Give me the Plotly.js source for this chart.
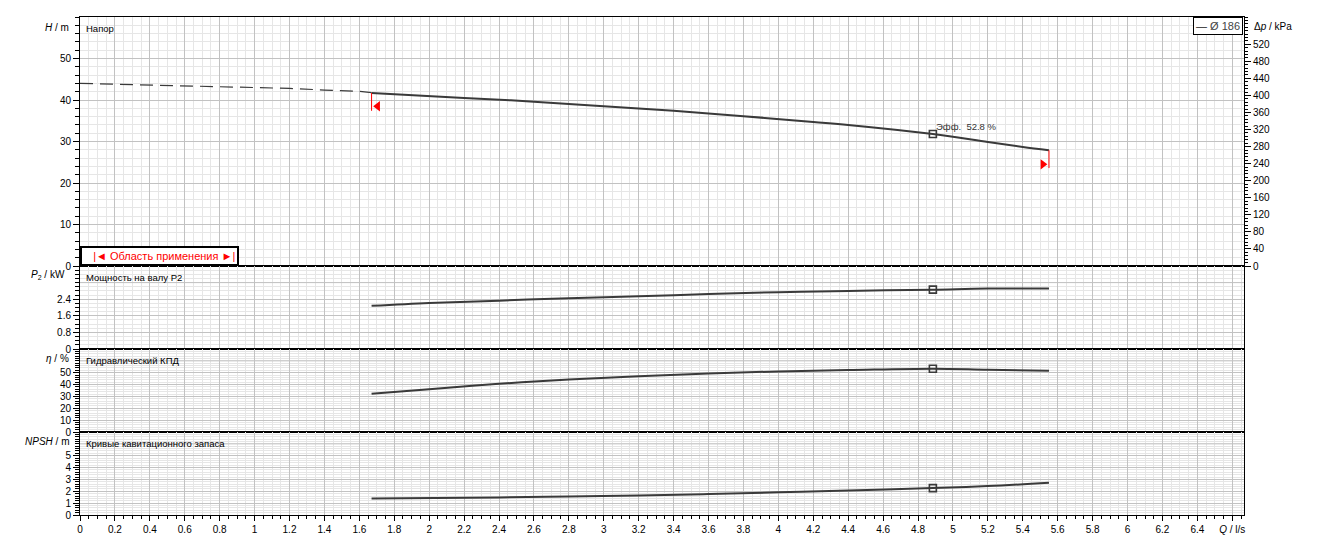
<!DOCTYPE html>
<html>
<head>
<meta charset="utf-8">
<script src="https://cdn.plot.ly/plotly-3.0.1.min.js"></script>
<style>html,body{margin:0;padding:0;background:#fff;}#chart{width:1323px;height:550px;}</style>
</head>
<body>
<div id="chart"></div>
<script>
// ---- data ----
const qDash = [0, 0.2, 0.4, 0.6, 0.8, 1.0, 1.2, 1.4, 1.6, 1.67];
const hDash = [44.0, 43.8, 43.7, 43.5, 43.3, 43.0, 42.8, 42.4, 42.1, 41.8];

const qHead = [1.67, 2.2, 2.6, 3.0, 3.4, 3.8, 4.2, 4.4, 4.885, 5.2, 5.4, 5.55];
const hHead = [41.7, 40.5, 39.6, 38.5, 37.4, 36.1, 34.7, 34.0, 31.8, 29.9, 28.7, 27.9];

const qPower = [1.67, 2.0, 2.4, 2.8, 3.2, 3.6, 4.0, 4.4, 4.885, 5.2, 5.55];
const pPower = [2.08, 2.22, 2.33, 2.45, 2.54, 2.65, 2.74, 2.80, 2.86, 2.91, 2.91];

const qEff = [1.67, 2.0, 2.4, 2.8, 3.2, 3.6, 4.0, 4.4, 4.885, 5.2, 5.55];
const etaEff = [32.3, 36.1, 40.6, 44.3, 47.1, 49.4, 51.1, 52.2, 53.4, 52.5, 51.7];

const qNpsh = [1.67, 2.4, 2.8, 3.2, 3.6, 4.0, 4.4, 4.885, 5.2, 5.55];
const npsh = [1.40, 1.48, 1.57, 1.65, 1.77, 1.91, 2.07, 2.27, 2.44, 2.72];

const bepQ = 4.885, bepH = 31.8, bepP = 2.86, bepEta = 53.4, bepNpsh = 2.27;
const bepLabel = 'Эфф.  52.8 %';

const limitLeftQ = [1.67, 1.67], limitLeftH = [41.7, 37.4];
const limitLeftMarkQ = [1.705], limitLeftMarkH = [38.5];
const limitRightQ = [5.55, 5.55], limitRightH = [27.9, 23.6];
const limitRightMarkQ = [5.515], limitRightMarkH = [24.5];

const kPaPerM = 584 / 60;

const xTickVals = [0,0.2,0.4,0.6,0.8,1,1.2,1.4,1.6,1.8,2,2.2,2.4,2.6,2.8,3,3.2,3.4,3.6,3.8,4,4.2,4.4,4.6,4.8,5,5.2,5.4,5.6,5.8,6,6.2,6.4,6.6];
const xTickText = ['0','0.2','0.4','0.6','0.8','1','1.2','1.4','1.6','1.8','2','2.2','2.4','2.6','2.8','3','3.2','3.4','3.6','3.8','4','4.2','4.4','4.6','4.8','5','5.2','5.4','5.6','5.8','6','6.2','6.4','<i>Q</i> / l/s'];
const hTickVals = [0,10,20,30,40,50];
const pTickVals = [0,0.8,1.6,2.4];
const etaTickVals = [0,10,20,30,40,50];
const npshTickVals = [0,1,2,3,4,5];
const dpTickVals = [0,40,80,120,160,200,240,280,320,360,400,440,480,520];
// unlabelled major grid lines under the axis titles
const pGridTop = 3.2, etaGridTop = 60, npshGridTop = 6;

// ---- styles ----
const curveColor = '#3a3a3a';
const FONT = 'Liberation Sans, Arial, sans-serif';
const majorGrid = '#c2c2c2';
const minorGrid = '#e6e6e6';

const line = (x, y, xa, ya, extra) => Object.assign({
  x, y, xaxis: xa, yaxis: ya, type: 'scatter', mode: 'lines',
  line: {color: curveColor, width: 2}, hoverinfo: 'skip', showlegend: false
}, extra || {});

const bep = (y, xa, ya) => ({
  x: [bepQ], y: [y], xaxis: xa, yaxis: ya, type: 'scatter', mode: 'markers',
  marker: {symbol: 'square-open', size: 7, color: curveColor, line: {width: 1.6, color: curveColor}},
  hoverinfo: 'skip', showlegend: false
});

const traces = [
  line(qDash, hDash, 'x', 'y', {line: {color: curveColor, width: 1.2, dash: '13px,7px'}}),
  line(qHead, hHead, 'x', 'y', {line: {color: curveColor, width: 2, shape: 'spline'}}),
  line(qHead, hHead.map(h => h * kPaPerM), 'x', 'y5', {line: {color: 'rgba(0,0,0,0)', width: 0}}),
  line(limitLeftQ, limitLeftH, 'x', 'y', {line: {color: '#ff0000', width: 1}}),
  line(limitRightQ, limitRightH, 'x', 'y', {line: {color: '#ff0000', width: 1}}),
  {x: limitLeftMarkQ, y: limitLeftMarkH, xaxis: 'x', yaxis: 'y', type: 'scatter', mode: 'markers',
   marker: {symbol: 'triangle-left', size: 9, color: '#ff0000'}, hoverinfo: 'skip', showlegend: false},
  {x: limitRightMarkQ, y: limitRightMarkH, xaxis: 'x', yaxis: 'y', type: 'scatter', mode: 'markers',
   marker: {symbol: 'triangle-right', size: 9, color: '#ff0000'}, hoverinfo: 'skip', showlegend: false},
  bep(bepH, 'x', 'y'),
  line(qPower, pPower, 'x2', 'y2', {line: {color: curveColor, width: 2, shape: 'spline'}}),
  bep(bepP, 'x2', 'y2'),
  line(qEff, etaEff, 'x3', 'y3', {line: {color: curveColor, width: 2, shape: 'spline'}}),
  bep(bepEta, 'x3', 'y3'),
  line(qNpsh, npsh, 'x4', 'y4', {line: {color: curveColor, width: 2, shape: 'spline'}}),
  bep(bepNpsh, 'x4', 'y4')
];

const tickFont = {family: FONT, size: 10, color: '#000'};

function xAxis(anchor, bottom) {
  return {
    domain: [0, 1], anchor: anchor, range: [0, 6.667], autorange: false,
    tickmode: 'array', tickvals: xTickVals, ticktext: xTickText,
    showticklabels: bottom, ticks: bottom ? 'outside' : '', ticklen: 5, tickcolor: '#000',
    showgrid: true, gridcolor: majorGrid, gridwidth: 1,
    minor: {dtick: 0.05, tick0: 0, showgrid: true, gridcolor: minorGrid, gridwidth: 1,
            ticks: bottom ? 'outside' : '', ticklen: 3, tickcolor: '#000'},
    showline: true, linecolor: '#000', linewidth: 1, mirror: true,
    zeroline: false, tickfont: tickFont, fixedrange: true
  };
}
function yAxis(anchor, domain, range, tv, minorDtick) {
  return {
    domain: domain, anchor: anchor, range: range, autorange: false,
    tickmode: 'array', tickvals: tv,
    ticks: 'outside', ticklen: 6, tickcolor: '#000',
    showgrid: true, gridcolor: majorGrid, gridwidth: 1,
    minor: {dtick: minorDtick, tick0: 0, showgrid: true, gridcolor: minorGrid, gridwidth: 1,
            ticks: 'outside', ticklen: 4, tickcolor: '#000'},
    showline: true, linecolor: '#000', linewidth: 1, mirror: true,
    zeroline: false, tickfont: tickFont, fixedrange: true
  };
}
const gridShape = (ya, xa, v) => ({
  type: 'line', xref: xa + ' domain', x0: 0, x1: 1, yref: ya, y0: v, y1: v,
  line: {color: majorGrid, width: 1}, layer: 'above'
});

const titleFont = {family: FONT, size: 9.5, color: '#000'};

const layout = {
  width: 1323, height: 550,
  margin: {l: 80, r: 79, t: 17, b: 35, pad: 0},
  paper_bgcolor: '#fff', plot_bgcolor: '#fff',
  showlegend: false,
  font: {family: FONT, size: 10, color: '#000'},
  xaxis: xAxis('y', false),
  xaxis2: xAxis('y2', false),
  xaxis3: xAxis('y3', false),
  xaxis4: xAxis('y4', true),
  yaxis: yAxis('x', [0.5, 1], [0, 60], hTickVals, 2),
  yaxis2: yAxis('x2', [2/6, 0.5], [0, 4], pTickVals, 0.2),
  yaxis3: yAxis('x3', [1/6, 2/6], [0, 70], etaTickVals, 2),
  yaxis4: yAxis('x4', [0, 1/6], [0, 7], npshTickVals, 0.2),
  yaxis5: {
    overlaying: 'y', side: 'right', anchor: 'x', range: [0, 584], autorange: false,
    tickmode: 'array', tickvals: dpTickVals, ticks: 'outside', ticklen: 6, tickcolor: '#000',
    showgrid: false, zeroline: false, showline: false, tickfont: tickFont,
    minor: {dtick: 8, tick0: 0, ticks: 'outside', ticklen: 3, tickcolor: '#000', showgrid: false},
    fixedrange: true
  },
  shapes: [
    gridShape('y2', 'x2', pGridTop),
    gridShape('y3', 'x3', etaGridTop),
    gridShape('y4', 'x4', npshGridTop)
  ],
  annotations: [
    // panel titles
    {xref: 'paper', yref: 'paper', x: 0, y: 1, xanchor: 'left', yanchor: 'top', xshift: 4, yshift: -4,
     text: 'Напор', showarrow: false, font: titleFont},
    {xref: 'paper', yref: 'paper', x: 0, y: 0.5, xanchor: 'left', yanchor: 'top', xshift: 4, yshift: -4,
     text: 'Мощность на валу P2', showarrow: false, font: titleFont},
    {xref: 'paper', yref: 'paper', x: 0, y: 2/6, xanchor: 'left', yanchor: 'top', xshift: 4, yshift: -4,
     text: 'Гидравлический КПД', showarrow: false, font: titleFont},
    {xref: 'paper', yref: 'paper', x: 0, y: 1/6, xanchor: 'left', yanchor: 'top', xshift: 4, yshift: -4,
     text: 'Кривые кавитационного запаса', showarrow: false, font: titleFont},
    // axis titles
    {xref: 'paper', yref: 'paper', x: 0, y: 1, xanchor: 'right', yanchor: 'middle', xshift: -9, yshift: -10,
     text: '<i>H</i> / m', showarrow: false, font: {family: FONT, size: 10}},
    {xref: 'paper', yref: 'paper', x: 0, y: 0.5, xanchor: 'right', yanchor: 'middle', xshift: -13, yshift: -9,
     text: '<i>P</i><sub>2</sub> / kW', showarrow: false, font: {family: FONT, size: 10}},
    {xref: 'paper', yref: 'paper', x: 0, y: 2/6, xanchor: 'right', yanchor: 'middle', xshift: -9, yshift: -9,
     text: '<i>η</i> / %', showarrow: false, font: {family: FONT, size: 10}},
    {xref: 'paper', yref: 'paper', x: 0, y: 1/6, xanchor: 'right', yanchor: 'middle', xshift: -9, yshift: -9,
     text: '<i>NPSH</i> / m', showarrow: false, font: {family: FONT, size: 10}},
    {xref: 'paper', yref: 'paper', x: 1, y: 1, xanchor: 'left', yanchor: 'middle', xshift: 8, yshift: -9,
     text: 'Δ<i>p</i> / kPa', showarrow: false, font: {family: FONT, size: 10}},
    // BEP label
    {xref: 'x', yref: 'y', x: bepQ, y: bepH, xanchor: 'left', yanchor: 'middle', xshift: 1, yshift: 8,
     text: bepLabel, showarrow: false, font: {family: FONT, size: 9.5, color: '#333'}},
    // legend box
    {xref: 'paper', yref: 'paper', x: 1, y: 1, xanchor: 'right', yanchor: 'top', xshift: -1, yshift: 0,
     text: '<span style="color:#222">—</span> Ø 186', showarrow: false,
     font: {family: FONT, size: 11, color: '#444'}, bordercolor: '#000', borderwidth: 1, borderpad: 2, bgcolor: '#fff'},
    // operating range box
    {xref: 'paper', yref: 'paper', x: 0, y: 0.5, xanchor: 'left', yanchor: 'bottom', xshift: 0, yshift: 0,
     text: '&nbsp;&nbsp;&nbsp;|◄ Область применения ►|', showarrow: false,
     font: {family: FONT, size: 11, color: '#ff0000'}, bordercolor: '#000', borderwidth: 2, borderpad: 2, bgcolor: '#fff'}
  ]
};

Plotly.newPlot('chart', traces, layout, {staticPlot: true, displayModeBar: false});
</script>
</body>
</html>
